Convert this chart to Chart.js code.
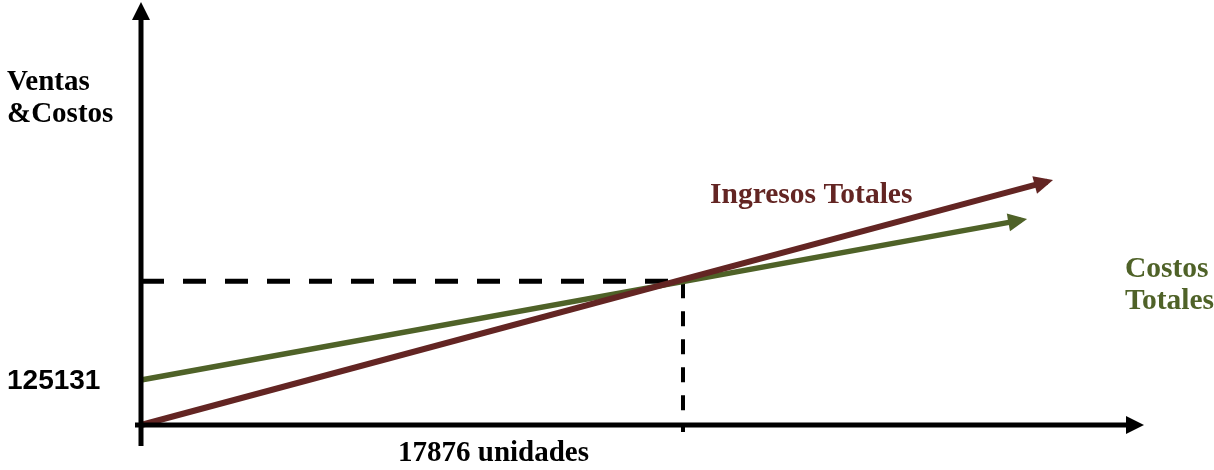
<!DOCTYPE html>
<html>
<head>
<meta charset="utf-8">
<script src="https://cdn.jsdelivr.net/npm/chart.js@4/dist/chart.umd.min.js"></script>
<style>
  html, body { margin: 0; padding: 0; background: #ffffff; }
  #wrap { width: 1214px; height: 470px; position: relative; }
</style>
</head>
<body>
<div id="wrap"><canvas id="c" width="1214" height="470"></canvas></div>
<script>
// ---- Data ----
const ingresosUnidades = [0, 29890];
const ingresosValores  = [0, 676800];
const costosUnidades   = [0, 29030];
const costosValores    = [125131, 569800];
const equilibrioUnidades = 17876;
const equilibrioValor    = 400000;
const ejeInferiorValor   = -19500;   // dashed guide runs slightly below the axis
const seriesNames  = ['Ingresos Totales', 'Costos Totales'];
const yAxisTitle   = ['Ventas', '&Costos'];
const yTickValues  = [125131];
const yTickLabels  = ['125131'];
const xTickLabels  = ['17876 unidades'];

const RED = '#632523';
const GREEN = '#4F6228';

function pts(xs, ys) { return xs.map((x, i) => ({ x: x, y: ys[i] })); }

const decor = {
  id: 'decor',
  afterDatasetsDraw(chart) {
    const ctx = chart.ctx;
    const xs = chart.scales.x, ys = chart.scales.y;
    const x0 = xs.getPixelForValue(0), y0 = ys.getPixelForValue(0);
    ctx.save();
    ctx.fillStyle = '#000'; ctx.strokeStyle = '#000'; ctx.lineWidth = 5; ctx.lineCap = 'butt';
    // y axis
    ctx.beginPath(); ctx.moveTo(x0, 446); ctx.lineTo(x0, 18); ctx.stroke();
    ctx.beginPath(); ctx.moveTo(x0, 2); ctx.lineTo(x0 - 9, 20); ctx.lineTo(x0 + 9, 20); ctx.closePath(); ctx.fill();
    // x axis
    ctx.beginPath(); ctx.moveTo(135, y0); ctx.lineTo(1128, y0); ctx.stroke();
    ctx.beginPath(); ctx.moveTo(1144, y0); ctx.lineTo(1126, y0 - 9); ctx.lineTo(1126, y0 + 9); ctx.closePath(); ctx.fill();
    // arrowheads on series lines
    [0, 1].forEach(i => {
      const ds = chart.data.datasets[i];
      const n = ds.data.length;
      const a = ds.data[n - 2], b = ds.data[n - 1];
      const ax = xs.getPixelForValue(a.x), ay = ys.getPixelForValue(a.y);
      const bx = xs.getPixelForValue(b.x), by = ys.getPixelForValue(b.y);
      const L = Math.hypot(bx - ax, by - ay);
      const ux = (bx - ax) / L, uy = (by - ay) / L;
      const tx = bx + ux * 6, ty = by + uy * 6;
      const baseX = tx - ux * 19, baseY = ty - uy * 19;
      const px = -uy, py = ux, hw = 9;
      ctx.fillStyle = ds.borderColor;
      ctx.beginPath();
      ctx.moveTo(tx, ty);
      ctx.lineTo(baseX + px * hw, baseY + py * hw);
      ctx.lineTo(baseX - px * hw, baseY - py * hw);
      ctx.closePath(); ctx.fill();
    });
    // texts
    ctx.textBaseline = 'alphabetic'; ctx.textAlign = 'left';
    ctx.fillStyle = '#000';
    ctx.font = 'bold 29px "Liberation Serif", "Times New Roman", serif';
    ctx.fillText(yAxisTitle[0], 7, 90);
    ctx.fillText(yAxisTitle[1], 7, 122);
    ctx.fillText(xTickLabels[0], 398, 461);
    ctx.font = 'bold 28px "Liberation Sans", Arial, sans-serif';
    yTickValues.forEach((v, i) => ctx.fillText(yTickLabels[i], 7, ys.getPixelForValue(v) + 9));
    ctx.font = 'bold 29.5px "Liberation Serif", "Times New Roman", serif';
    ctx.fillStyle = RED;
    ctx.fillText(seriesNames[0], 710, 203);
    ctx.fillStyle = GREEN;
    const parts = seriesNames[1].split(' ');
    ctx.fillText(parts[0], 1125, 277);
    ctx.fillText(parts[1], 1125, 309);
    ctx.restore();
  }
};

new Chart(document.getElementById('c'), {
  type: 'scatter',
  data: {
    datasets: [
      { label: seriesNames[0], data: pts(ingresosUnidades, ingresosValores), showLine: true,
        borderColor: RED, backgroundColor: RED, borderWidth: 6, pointRadius: 0, clip: false, order: 1 },
      { label: seriesNames[1], data: pts(costosUnidades, costosValores), showLine: true,
        borderColor: GREEN, backgroundColor: GREEN, borderWidth: 5.5, pointRadius: 0, clip: false, order: 2 },
      { label: 'eqH', data: [{ x: 0, y: equilibrioValor }, { x: equilibrioUnidades, y: equilibrioValor }], showLine: true,
        borderColor: '#000', borderWidth: 5, borderDash: [23, 19], pointRadius: 0, clip: false, order: 3 },
      { label: 'eqV', data: [{ x: equilibrioUnidades, y: equilibrioValor }, { x: equilibrioUnidades, y: ejeInferiorValor }], showLine: true,
        borderColor: '#000', borderWidth: 4, borderDash: [15, 13], borderDashOffset: -2, pointRadius: 0, clip: false, order: 4 }
    ]
  },
  options: {
    responsive: false,
    animation: false,
    devicePixelRatio: 1,
    layout: { padding: { left: 141, right: 73, top: 5, bottom: 45 } },
    plugins: { legend: { display: false }, tooltip: { enabled: false } },
    scales: {
      x: { type: 'linear', display: false, min: 0, max: 32982 },
      y: { type: 'linear', display: false, min: 0, max: 1167900 }
    }
  },
  plugins: [decor]
});
</script>
</body>
</html>
